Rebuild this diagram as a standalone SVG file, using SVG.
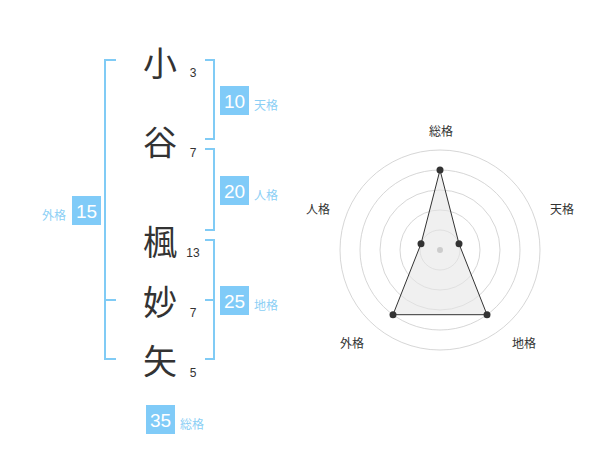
<svg xmlns="http://www.w3.org/2000/svg" width="600" height="470" viewBox="0 0 600 470">
<style>
.ch{font-family:"Noto Sans CJK JP","Noto Sans CJK SC",sans-serif;font-size:34px;fill:#333;text-anchor:middle;dominant-baseline:central}
.num{font-family:"Liberation Sans",Arial,sans-serif;font-size:12px;fill:#333;text-anchor:middle;dominant-baseline:central}
.box{fill:#80cbf8}
.bt{font-family:"Liberation Sans",Arial,sans-serif;font-size:19px;fill:#fff;text-anchor:middle;dominant-baseline:central}
.lb{font-family:"Noto Sans CJK JP","Noto Sans CJK SC",sans-serif;font-size:12px;fill:#8ccff5;dominant-baseline:central}
.br{fill:none;stroke:#80cbf5;stroke-width:2}
.ring{fill:none;stroke:#ccc;stroke-width:0.8}
.rl{font-family:"Noto Sans CJK JP","Noto Sans CJK SC",sans-serif;font-size:12px;fill:#333;text-anchor:middle;dominant-baseline:central}
</style>
<g id="connectors">
<path class="br" d="M116,60 H105 V359 H116 M105,300 H116"/>
<path class="br" d="M205,60 H214 V139 H205"/>
<path class="br" d="M205,149 H214 V230 H205"/>
<path class="br" d="M205,240 H214 V359 H205 M214,300 H205"/>
</g>
<g id="chars">
<text class="ch" x="160" y="61">小</text>
<text class="ch" x="160" y="140">谷</text>
<text class="ch" x="160" y="240">楓</text>
<text class="ch" x="160" y="300">妙</text>
<text class="ch" x="160" y="359">矢</text>
<text class="num" x="193" y="73">3</text>
<text class="num" x="193" y="153">7</text>
<text class="num" x="193" y="253">13</text>
<text class="num" x="193" y="313">7</text>
<text class="num" x="193" y="373">5</text>
</g>
<g id="tenkaku"><rect class="box" x="220" y="86" width="29" height="29"/><text class="bt" x="234.5" y="101">10</text><text class="lb" x="254" y="104">天格</text></g>
<g id="jinkaku"><rect class="box" x="220" y="176" width="29" height="29"/><text class="bt" x="234.5" y="191">20</text><text class="lb" x="254" y="194">人格</text></g>
<g id="chikaku"><rect class="box" x="220" y="286" width="29" height="29"/><text class="bt" x="234.5" y="301">25</text><text class="lb" x="254" y="304">地格</text></g>
<g id="gaikaku"><rect class="box" x="72" y="196" width="29" height="29"/><text class="bt" x="86.5" y="211">15</text><text class="lb" x="66" y="214" text-anchor="end">外格</text></g>
<g id="soukaku"><rect class="box" x="146" y="405" width="29" height="29"/><text class="bt" x="160.5" y="420">35</text><text class="lb" x="180" y="423">総格</text></g>
<g id="radar">
<circle class="ring" cx="440" cy="250" r="20"/>
<circle class="ring" cx="440" cy="250" r="40"/>
<circle class="ring" cx="440" cy="250" r="60"/>
<circle class="ring" cx="440" cy="250" r="80"/>
<circle class="ring" cx="440" cy="250" r="100"/>
<polygon points="440,170 459,243.8 487,314.7 393,314.7 421,243.8" fill="#e6e6e6" fill-opacity="0.6" stroke="#333" stroke-width="1"/>
<circle cx="440" cy="250" r="3" fill="#ccc"/>
<g fill="#333">
<circle cx="440" cy="170" r="3.5"/>
<circle cx="459" cy="243.8" r="3.5"/>
<circle cx="487" cy="314.7" r="3.5"/>
<circle cx="393" cy="314.7" r="3.5"/>
<circle cx="421" cy="243.8" r="3.5"/>
</g>
<text class="rl" x="441" y="130">総格</text>
<text class="rl" x="562" y="208">天格</text>
<text class="rl" x="318" y="208">人格</text>
<text class="rl" x="352" y="342">外格</text>
<text class="rl" x="524" y="342">地格</text>
</g>
</svg>
